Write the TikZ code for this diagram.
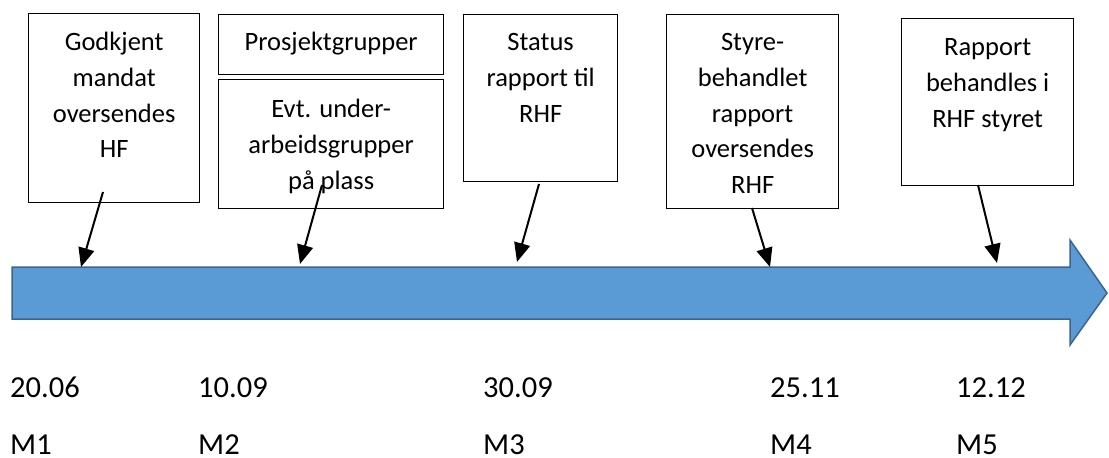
\documentclass[tikz,border=0pt]{standalone}
\usepackage{fontspec}
\setmainfont{Carlito}
\usetikzlibrary{arrows.meta}
\definecolor{arrowfill}{HTML}{5B9BD5}
\definecolor{arrowline}{HTML}{3A6590}
\newcommand\boxtxt[4]{\parbox[t][#2][t]{#1}{\fontsize{26.5pt}{35.7pt}\selectfont\centering\rule{0pt}{#3}#4}}
\tikzset{
  box/.style={draw=black, line width=1.3pt, fill=white, inner sep=0pt, anchor=north west},
  conn/.style={draw=black, line width=2pt, -{Triangle[length=19pt,width=16pt]}},
  datelabel/.style={inner sep=0pt, anchor=base west, font=\fontsize{30.5pt}{36pt}\selectfont},
  bigarrow/.style={fill=arrowfill, draw=arrowline, line width=1.5pt, line join=miter}
}
\begin{document}
\begin{tikzpicture}[x=1pt,y=-1pt]
\useasboundingbox (0,0) rectangle (1109,458);
% timeline arrow
\draw[bigarrow] (12,267) -- (1070,267) -- (1070,240) -- (1107,293) -- (1070,345) -- (1070,319) -- (12,319) -- cycle;
% boxes
\node[box] (b1) at (28,13) {\boxtxt{171pt}{189pt}{37pt}{Godkjent\\mandat\\oversendes\\HF}};
\node[box] (b2a) at (218,14) {\boxtxt{225pt}{60pt}{36pt}{Prosjektgrupper}};
\node[box] (b2b) at (218,79) {\boxtxt{225pt}{129pt}{38pt}{Evt. under-\\arbeidsgrupper\\på plass}};
\node[box] (b3) at (463,14) {\boxtxt{154pt}{167pt}{36pt}{Status\\rapport til\\RHF}};
\node[box] (b4) at (666,14) {\boxtxt{172pt}{194pt}{36pt}{Styre-\\behandlet\\rapport\\oversendes\\RHF}};
\node[box] (b5) at (901,18) {\boxtxt{172pt}{167pt}{37pt}{Rapport\\behandles i\\RHF styret}};
% connector end points
\coordinate (s1) at (103,192); \coordinate (e1) at (81,267);
\coordinate (s2) at (322,185); \coordinate (e2) at (300,264);
\coordinate (s3) at (539,184); \coordinate (e3) at (517,262);
\coordinate (s4) at (752,208); \coordinate (e4) at (770,267);
\coordinate (s5) at (978,185); \coordinate (e5) at (997,263);
\draw[conn] (s1) -- (e1);
\draw[conn] (s2) -- (e2);
\draw[conn] (s3) -- (e3);
\draw[conn] (s4) -- (e4);
\draw[conn] (s5) -- (e5);
% dates and milestones
\node[datelabel] (d1) at (10,397) {20.06};
\node[datelabel] (d2) at (198,397) {10.09};
\node[datelabel] (d3) at (483,397) {30.09};
\node[datelabel] (d4) at (770,397) {25.11};
\node[datelabel] (d5) at (956,397) {12.12};
\node[datelabel] (m1) at (10,454) {M1};
\node[datelabel] (m2) at (198,454) {M2};
\node[datelabel] (m3) at (483,454) {M3};
\node[datelabel] (m4) at (770,454) {M4};
\node[datelabel] (m5) at (956,454) {M5};
\end{tikzpicture}
\end{document}
